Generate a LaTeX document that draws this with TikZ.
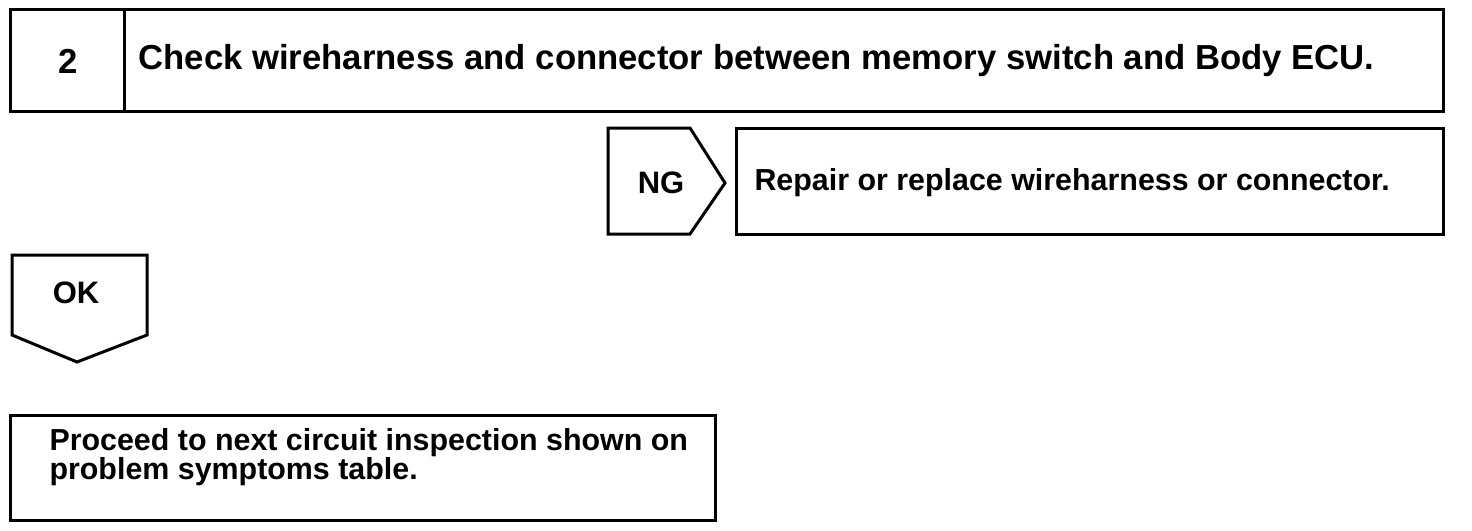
\documentclass[tikz,border=0pt]{standalone}
\usepackage{fontspec}
\setmainfont{Liberation Sans}
\begin{document}
\begin{tikzpicture}[x=1pt,y=-1pt,line width=3pt,line join=miter,
  lbl/.style={font=\fontsize{31}{31}\selectfont\bfseries,inner sep=0pt},
  biglbl/.style={font=\fontsize{34.7}{36}\selectfont\bfseries,inner sep=0pt},
  boxline/.style={draw=black,line width=3pt}]
\useasboundingbox (0,0) rectangle (1472,530);
% top step box
\draw[boxline] (10,9) rectangle (1443,111);
\draw[boxline] (124,9) -- (124,111);
\node[biglbl] (num) at (68,61) {2};
\node[biglbl,anchor=west] (title) at (137,61) {Check wireharness and connector between memory switch and Body ECU.};
% NG
\draw[boxline] (608,128) -- (690,128) -- (725,183) -- (690,234) -- (608,234) -- cycle;
\node[lbl] (ng) at (661,183) {NG};
\draw[boxline] (736,128) rectangle (1443,234);
\node[lbl,anchor=west,font=\fontsize{30.4}{31}\selectfont\bfseries] (repair) at (753,183) {Repair or replace wireharness or connector.};
% OK
\draw[boxline] (12,255) -- (147,255) -- (147,335) -- (77,362) -- (12,335) -- cycle;
\node[lbl] (ok) at (76,293) {OK};
% bottom box
\draw[boxline] (10,415) rectangle (715,520);
\node[lbl,anchor=north west,align=left,font=\fontsize{30.4}{27}\selectfont\bfseries] (proceed) at (48,427) {Proceed to next circuit inspection shown on\\problem symptoms table.};
\end{tikzpicture}
\end{document}
